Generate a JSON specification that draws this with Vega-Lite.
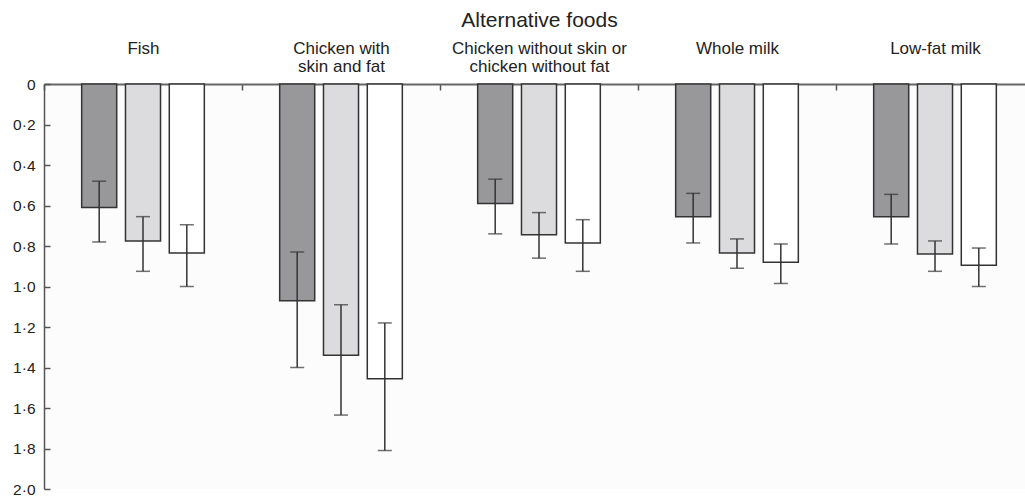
{
  "$schema": "https://vega.github.io/schema/vega-lite/v6.json",
  "autosize": {"type": "none"},
  "padding": {"left": 44, "top": 84, "right": 0, "bottom": 9},
  "width": 981,
  "height": 405,
  "background": "#ffffff",
  "config": {
    "font": "Liberation Sans",
    "view": {"stroke": null, "fill": "#fcfcfc"}
  },
  "data": {
    "values": [
      {"food": "Fish", "group": "A", "mean": 0.61, "lo": 0.48, "hi": 0.78},
      {"food": "Fish", "group": "B", "mean": 0.775, "lo": 0.655, "hi": 0.925},
      {"food": "Fish", "group": "C", "mean": 0.835, "lo": 0.695, "hi": 1.0},
      {"food": "Chicken with|skin and fat", "group": "A", "mean": 1.07, "lo": 0.83, "hi": 1.4},
      {"food": "Chicken with|skin and fat", "group": "B", "mean": 1.34, "lo": 1.09, "hi": 1.635},
      {"food": "Chicken with|skin and fat", "group": "C", "mean": 1.455, "lo": 1.18, "hi": 1.81},
      {"food": "Chicken without skin or|chicken without fat", "group": "A", "mean": 0.59, "lo": 0.47, "hi": 0.74},
      {"food": "Chicken without skin or|chicken without fat", "group": "B", "mean": 0.745, "lo": 0.635, "hi": 0.86},
      {"food": "Chicken without skin or|chicken without fat", "group": "C", "mean": 0.785, "lo": 0.67, "hi": 0.925},
      {"food": "Whole milk", "group": "A", "mean": 0.655, "lo": 0.54, "hi": 0.785},
      {"food": "Whole milk", "group": "B", "mean": 0.835, "lo": 0.765, "hi": 0.91},
      {"food": "Whole milk", "group": "C", "mean": 0.88, "lo": 0.79, "hi": 0.985},
      {"food": "Low-fat milk", "group": "A", "mean": 0.655, "lo": 0.545, "hi": 0.79},
      {"food": "Low-fat milk", "group": "B", "mean": 0.84, "lo": 0.775, "hi": 0.925},
      {"food": "Low-fat milk", "group": "C", "mean": 0.895, "lo": 0.81, "hi": 1.0}
    ]
  },
  "encoding": {
    "x": {
      "field": "food",
      "type": "nominal",
      "sort": null,
      "scale": {"paddingInner": 0, "paddingOuter": 0, "range": [0, 990]},
      "axis": {
        "orient": "top",
        "title": "Alternative foods",
        "titleFontSize": 21,
        "titleFontWeight": "normal",
        "titleColor": "#222222",
        "titlePadding": 9,
        "labelExpr": "split(datum.label, '|')",
        "labelAngle": 0,
        "labelBaseline": "top",
        "labelFontSize": 17,
        "labelColor": "#222222",
        "labelLineHeight": 18,
        "labelPadding": 49.5,
        "tickBand": "extent",
        "tickSize": -6,
        "tickColor": "#555555",
        "tickWidth": 1.5,
        "domainColor": "#666666",
        "domainWidth": 2
      }
    },
    "xOffset": {
      "field": "group",
      "type": "nominal",
      "scale": {"paddingInner": 0.2, "paddingOuter": 0.86}
    }
  },
  "layer": [
    {
      "mark": {"type": "bar", "stroke": "#333333", "strokeWidth": 1.5},
      "encoding": {
        "y": {
          "field": "mean",
          "type": "quantitative",
          "scale": {"domain": [0, 2], "reverse": true, "nice": false},
          "axis": {
            "title": null,
            "values": [0, 0.2, 0.4, 0.6, 0.8, 1.0, 1.2, 1.4, 1.6, 1.8, 2.0],
            "labelExpr": "datum.value == 0 ? '0' : replace(format(datum.value, '.1f'), '.', '·')",
            "labelFontSize": 15.5,
            "labelColor": "#222222",
            "labelPadding": 15,
            "grid": false,
            "tickSize": -6,
            "tickColor": "#555555",
            "tickWidth": 1.5,
            "domainColor": "#555555",
            "domainWidth": 1.5
          }
        },
        "fill": {
          "field": "group",
          "type": "nominal",
          "scale": {"domain": ["A", "B", "C"], "range": ["#98989b", "#dcdcde", "#ffffff"]},
          "legend": null
        }
      }
    },
    {
      "mark": {"type": "rule", "color": "#333333", "strokeWidth": 1.5},
      "encoding": {
        "y": {"field": "lo", "type": "quantitative"},
        "y2": {"field": "hi"}
      }
    },
    {
      "mark": {"type": "tick", "color": "#333333", "thickness": 1.5, "size": 14},
      "encoding": {"y": {"field": "lo", "type": "quantitative"}}
    },
    {
      "mark": {"type": "tick", "color": "#333333", "thickness": 1.5, "size": 14},
      "encoding": {"y": {"field": "hi", "type": "quantitative"}}
    }
  ]
}
